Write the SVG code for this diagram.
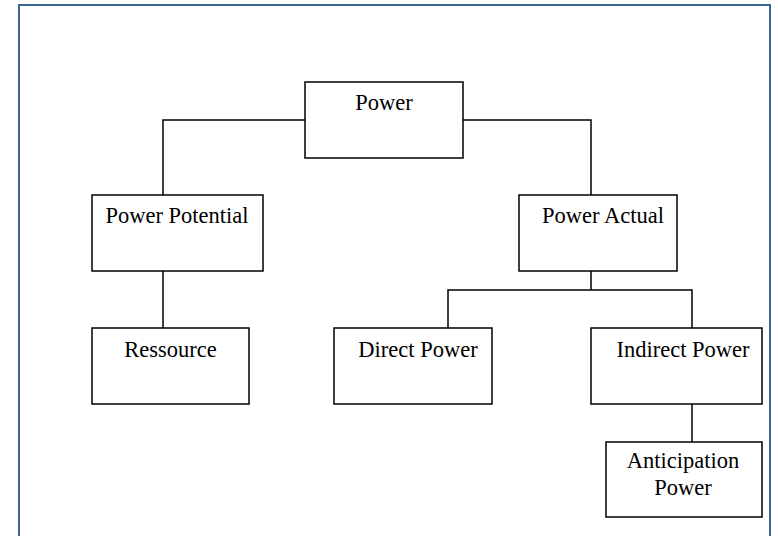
<svg xmlns="http://www.w3.org/2000/svg" width="778" height="536" viewBox="0 0 778 536">
<style>
.box{fill:#fff;stroke:#000;stroke-width:1.5}
.lbl{font-family:"Liberation Serif","Times New Roman",serif;font-size:22.5px;fill:#000;text-anchor:middle}
.con{fill:none;stroke:#000;stroke-width:1.5}
</style>
<rect x="0" y="0" width="778" height="536" fill="#fff"/>
<rect x="19" y="5" width="751" height="545" fill="none" stroke="#3a6496" stroke-width="2"/>
<g id="connectors">
<polyline class="con" points="305,120 163,120 163,195"/>
<polyline class="con" points="463,120 591,120 591,195"/>
<line class="con" x1="163" y1="271" x2="163" y2="328"/>
<line class="con" x1="591" y1="271" x2="591" y2="290"/>
<polyline class="con" points="448,328 448,290 692,290 692,328"/>
<line class="con" x1="692" y1="404" x2="692" y2="442"/>
</g>
<g id="power"><rect class="box" x="305" y="82" width="158" height="76"/><text class="lbl" x="384" y="110">Power</text></g>
<g id="power-potential"><rect class="box" x="92" y="195" width="171" height="76"/><text class="lbl" x="177" y="223">Power Potential</text></g>
<g id="power-actual"><rect class="box" x="519" y="195" width="158" height="76"/><text class="lbl" x="603" y="223">Power Actual</text></g>
<g id="ressource"><rect class="box" x="92" y="328" width="157" height="76"/><text class="lbl" x="170.5" y="357">Ressource</text></g>
<g id="direct-power"><rect class="box" x="334" y="328" width="158" height="76"/><text class="lbl" x="418" y="357">Direct Power</text></g>
<g id="indirect-power"><rect class="box" x="591" y="328" width="171" height="76"/><text class="lbl" x="683" y="357">Indirect Power</text></g>
<g id="anticipation-power"><rect class="box" x="606" y="442" width="156" height="75"/><text class="lbl" x="683" y="468">Anticipation</text><text class="lbl" x="683" y="495">Power</text></g>
</svg>
